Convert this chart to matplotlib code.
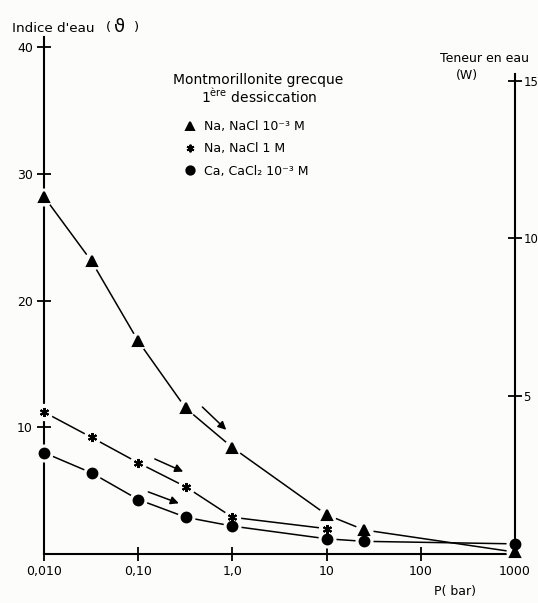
import matplotlib
matplotlib.use("Agg")
import matplotlib.pyplot as plt
from matplotlib.lines import Line2D

plt.rcParams['font.family'] = ['DejaVu Sans']

# ---- data ----
p_tri = [0.01, 0.032, 0.1, 0.32, 1.0, 10, 25, 1000]
v_tri = [28.2, 23.1, 16.8, 11.5, 8.4, 3.1, 1.9, 0.15]

p_star = [0.01, 0.032, 0.1, 0.32, 1.0, 10]
v_star = [11.2, 9.2, 7.2, 5.3, 2.9, 2.0]

p_circ = [0.01, 0.032, 0.1, 0.32, 1.0, 10, 25, 1000]
v_circ = [8.0, 6.4, 4.3, 2.9, 2.2, 1.2, 1.0, 0.8]

x_ticks = [0.01, 0.1, 1, 10, 100, 1000]
x_labels = ["0,010", "0,10", "1,0", "10", "100", "1000"]
y_left_ticks = [10, 20, 30, 40]
y_right_ticks = [5, 10, 15]

labels = ["Na, NaCl 10\u207b\u00b3 M", "Na, NaCl 1 M", "Ca, CaCl\u2082 10\u207b\u00b3 M"]

# arrows (start, end) in data coords
arrows = [((0.48, 11.6), (0.86, 9.8)),
          ((0.15, 7.5), (0.30, 6.5)),
          ((0.128, 4.9), (0.27, 4.0))]

W = 538; H = 603
fig = plt.figure(figsize=(W / 100, H / 100), dpi=100)
bg = '#fcfcfa'
fig.patch.set_facecolor(bg)

ax = fig.add_axes([44 / W, 1 - 554 / H, (515 - 44) / W, (554 - 37) / H])
ax.set_facecolor(bg)
ax.set_xscale('log')
ax.set_xlim(0.01, 1000)
YMAX = 40.8
ax.set_ylim(0, YMAX)

series = [(p_tri, v_tri, '^', 7), (p_star, v_star, (6, 2, 0), 6.5), (p_circ, v_circ, 'o', 7)]
for xs, ys, m, ms in series:
    ax.plot(xs, ys, '-', color='black', lw=1.1, clip_on=False, zorder=2)
    ax.plot(xs, ys, 'o', ls='none', color=bg, ms=ms + 5, clip_on=False, zorder=3)
    ax.plot(xs, ys, marker=m, ls='none', color='black', ms=ms, mew=1.5, clip_on=False, zorder=4)

for (s, e) in arrows:
    ax.annotate('', xy=e, xytext=s,
                arrowprops=dict(arrowstyle='-|>', color='black', lw=1.1,
                                mutation_scale=12, shrinkA=0, shrinkB=0))

ax.spines['top'].set_visible(False)
ax.spines['right'].set_visible(False)
for s in ['left', 'bottom']:
    ax.spines[s].set_linewidth(1.5)

ax.set_xticks(x_ticks)
ax.set_xticklabels(x_labels)
ax.xaxis.set_minor_locator(matplotlib.ticker.NullLocator())
ax.set_yticks(y_left_ticks)
ax.set_yticklabels([str(v) for v in y_left_ticks])
ax.tick_params(axis='both', direction='inout', length=10, width=1.3, labelsize=9, pad=3)

ax2 = ax.twinx()
ax2.set_ylim(0, YMAX / 2.49)
ax2.set_yticks(y_right_ticks)
ax2.set_yticklabels([str(v) for v in y_right_ticks])
for s in ['top', 'left', 'bottom']:
    ax2.spines[s].set_visible(False)
ax2.spines['right'].set_linewidth(1.5)
ax2.spines['right'].set_bounds(0, 15.2)
ax2.tick_params(axis='y', direction='inout', length=10, width=1.3, labelsize=8.5, pad=1)

# texts
fig.text(12 / W, 1 - 28 / H, "Indice d'eau", fontsize=9.7, va='center', ha='left')
fig.text(106 / W, 1 - 28 / H, "(", fontsize=9.5, va='center', ha='left')
fig.text(114 / W, 1 - 27 / H, "\u03d1", fontsize=13, va='center', ha='left')
fig.text(134 / W, 1 - 28 / H, ")", fontsize=9.5, va='center', ha='left')
fig.text(484 / W, 1 - 59 / H, "Teneur en eau", fontsize=9, va='center', ha='center')
fig.text(467 / W, 1 - 75 / H, "(W)", fontsize=9, va='center', ha='center')
fig.text(455 / W, 1 - 592 / H, "P( bar)", fontsize=9, va='center', ha='center')
fig.text(258 / W, 1 - 80 / H, "Montmorillonite grecque", fontsize=10, va='center', ha='center')
fig.text(259 / W, 1 - 97 / H, "1$^{\\mathrm{\u00e8re}}$ dessiccation", fontsize=10, va='center', ha='center')

handles = [Line2D([], [], marker=m, ls='none', color='black', ms=ms - 1, mew=1.4)
           for _, _, m, ms in series]
fig.legend(handles, labels, loc='upper left', bbox_to_anchor=(182 / W, 1 - 120 / H),
           frameon=False, fontsize=9, handlelength=1.2, handletextpad=0.6,
           labelspacing=0.75, borderpad=0, borderaxespad=0)

fig.savefig('out.png', dpi=100, facecolor=bg)
